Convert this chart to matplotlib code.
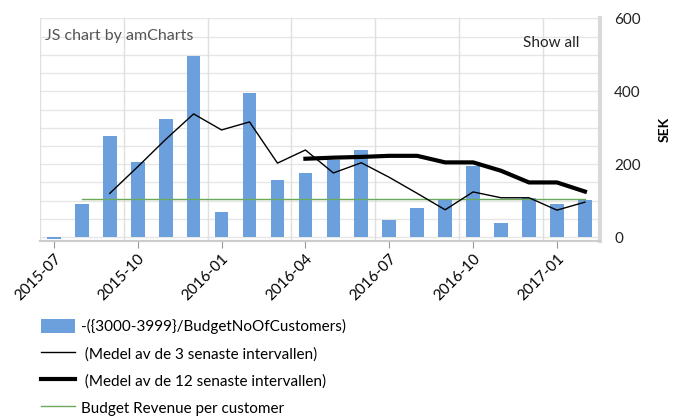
import matplotlib.pyplot as plt
from matplotlib.patches import Patch
from matplotlib.lines import Line2D

plt.rcParams['font.family'] = ['Lato', 'DejaVu Sans']

# months on the x axis
months = ['2015-07', '2015-08', '2015-09', '2015-10', '2015-11', '2015-12',
          '2016-01', '2016-02', '2016-03', '2016-04', '2016-05', '2016-06',
          '2016-07', '2016-08', '2016-09', '2016-10', '2016-11', '2016-12',
          '2017-01', '2017-02']

# bars: -({3000-3999}/BudgetNoOfCustomers)
revenue = [-5, 90, 277, 207, 325, 497, 70, 394, 156, 176,
           211, 239, 47, 81, 101, 196, 39, 108, 90, 101]

# 3 month average (starts at 2015-09)
avg3_months = months[2:]
avg3 = [120, 193, 268, 338, 294, 316, 203, 239, 176, 204,
        164, 120, 75, 124, 108, 108, 74, 96]

# 12 month average (starts at 2016-04)
avg12_months = months[9:]
avg12 = [215, 218, 220, 223, 223, 205, 205, 182, 150, 150, 125]

# budget line
budget_months = months[1:]
budget = [105] * len(budget_months)

tick_labels = ['2015-07', '2015-10', '2016-01', '2016-04', '2016-07', '2016-10', '2017-01']

fig = plt.figure(figsize=(6.76, 4.18), dpi=100)
ax = fig.add_axes([0.059, 0.424, 0.829, 0.532])

xi = {m: i for i, m in enumerate(months)}

ax.bar([xi[m] for m in months], revenue, width=0.49, color='#6ca0dc', zorder=2)
ax.plot([xi[m] for m in budget_months], budget, color='#6aaa5a', lw=1, zorder=3)
ax.plot([xi[m] for m in avg3_months], avg3, color='black', lw=1, zorder=4)
ax.plot([xi[m] for m in avg12_months], avg12, color='black', lw=3, zorder=5)

ax.set_xlim(-0.5, 19.55)
ax.set_ylim(-10, 600)

# grid
for y in range(0, 601, 50):
    ax.axhline(y, color='#e6e6e6', lw=1, zorder=0)
for x in [-0.5, 2.5, 5.5, 8.5, 11.5, 14.5, 17.5]:
    ax.axvline(x, color='#e0e0e0', lw=1, zorder=0)

ax.set_xticks([xi[m] for m in tick_labels])
ax.set_xticklabels(tick_labels, rotation=45, ha='right', rotation_mode='anchor', fontsize=11)
ax.tick_params(axis='x', length=5, color='#999999', pad=3)

ax.yaxis.tick_right()
ax.set_yticks([0, 200, 400, 600])
ax.tick_params(axis='y', length=0, pad=10, labelsize=11, colors='#222222')
ax.yaxis.set_label_position('right')
ax.set_ylabel('SEK', fontweight='bold', fontsize=10, labelpad=13)

for s in ['left', 'top']:
    ax.spines[s].set_visible(False)
ax.spines['bottom'].set_color('#cccccc')
ax.spines['bottom'].set_linewidth(1.5)
ax.spines['right'].set_color('#d9d9d9')
ax.spines['right'].set_linewidth(3)

ax.text(0.01, 0.923, 'JS chart by amCharts', transform=ax.transAxes,
        fontsize=11.5, color='#555555', va='center')
ax.text(0.963, 0.89, 'Show all', transform=ax.transAxes,
        fontsize=11, color='#222222', ha='right', va='center')

handles = [
    Patch(facecolor='#6ca0dc', edgecolor='none'),
    Line2D([0], [0], color='black', lw=1),
    Line2D([0], [0], color='black', lw=3),
    Line2D([0], [0], color='#6aaa5a', lw=1),
]
labels = ['-({3000-3999}/BudgetNoOfCustomers)',
          ' (Medel av de 3 senaste intervallen)',
          ' (Medel av de 12 senaste intervallen)',
          'Budget Revenue per customer']
fig.legend(handles, labels, loc='upper left', bbox_to_anchor=(0.052, 0.252),
           frameon=False, fontsize=11, handlelength=2.2, handleheight=1.1,
           labelspacing=0.76, handletextpad=0.4, borderaxespad=0)

fig.savefig('out.png', dpi=100)
